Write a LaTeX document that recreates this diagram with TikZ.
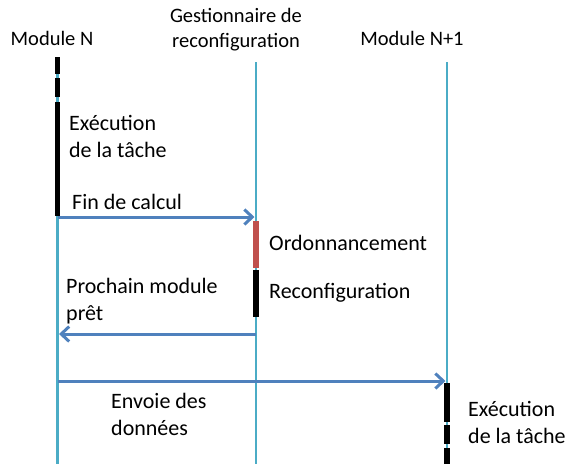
\documentclass[tikz,border=0pt]{standalone}
\usepackage{fontspec}
\setmainfont{Carlito}
\usetikzlibrary{arrows.meta}
\definecolor{lifeblue}{HTML}{4BACC6}
\definecolor{msgblue}{HTML}{4F81BD}
\definecolor{schedred}{HTML}{C0504D}
\begin{document}
\begin{tikzpicture}[x=1pt,y=-1pt,
  lifeline/.style={draw=lifeblue,line width=2.5pt},
  activity/.style={line width=5.5pt},
  message/.style={draw=msgblue,line width=3pt,
    -{Straight Barb[length=8pt,width=15pt]},shorten >=1.5pt},
  header/.style={font=\fontsize{20.5}{25}\selectfont,inner sep=0pt,align=center},
  label/.style={font=\fontsize{22}{27}\selectfont,inner sep=0pt,align=left,anchor=base west}]
\useasboundingbox (0,0) rectangle (566,464);

% lifeline end points
\coordinate (nTop) at (57.5,57);   \coordinate (nBot) at (57.5,464);
\coordinate (gTop) at (256,62);    \coordinate (gBot) at (256,464);
\coordinate (mTop) at (447,62);    \coordinate (mBot) at (447,464);

% headers (base anchor sits on the last line)
\node[header,anchor=base] (hN) at (52,45) {Module N};
\node[header,anchor=base] (hG) at (236,47) {Gestionnaire de\\reconfiguration};
\node[header,anchor=base] (hM) at (412,45) {Module N+1};

% lifelines
\draw[lifeline] (nTop) -- (nBot);
\draw[lifeline] (gTop) -- (gBot);
\draw[lifeline] (mTop) -- (mBot);

% activity bars of Module N
\draw[activity] (57.5,57) -- (57.5,74);
\draw[activity] (57.5,78) -- (57.5,97);
\draw[activity] (57.5,102) -- (57.5,216);

% scheduling and reconfiguration on the manager
\draw[activity,schedred] (256,221) -- (256,268);
\draw[activity] (256,270) -- (256,317);

% activity bars of Module N+1
\draw[activity] (447,383) -- (447,422);
\draw[activity] (447,425) -- (447,444);
\draw[activity] (447,448) -- (447,464);

% message anchors
\coordinate (a1s) at (57.5,217);  \coordinate (a1e) at (256,217);
\coordinate (a2s) at (256,334);   \coordinate (a2e) at (57.5,334);
\coordinate (a3s) at (57.5,381);  \coordinate (a3e) at (447,381);

\draw[message] (a1s) -- (a1e);
\draw[message] (a2s) -- (a2e);
\draw[message] (a3s) -- (a3e);

% labels (base anchor sits on the last line)
\node[label] (execN) at (69,157) {Exécution\\de la tâche};
\node[label] (fin) at (72,209) {Fin de calcul};
\node[label] (ord) at (269,250) {Ordonnancement};
\node[label] (reconf) at (269,298) {Reconfiguration};
\node[label] (prochain) at (66,320) {Prochain module\\prêt};
\node[label] (envoi) at (111,435) {Envoie des\\données};
\node[label] (execM) at (468,443) {Exécution\\de la tâche};
\end{tikzpicture}
\end{document}
